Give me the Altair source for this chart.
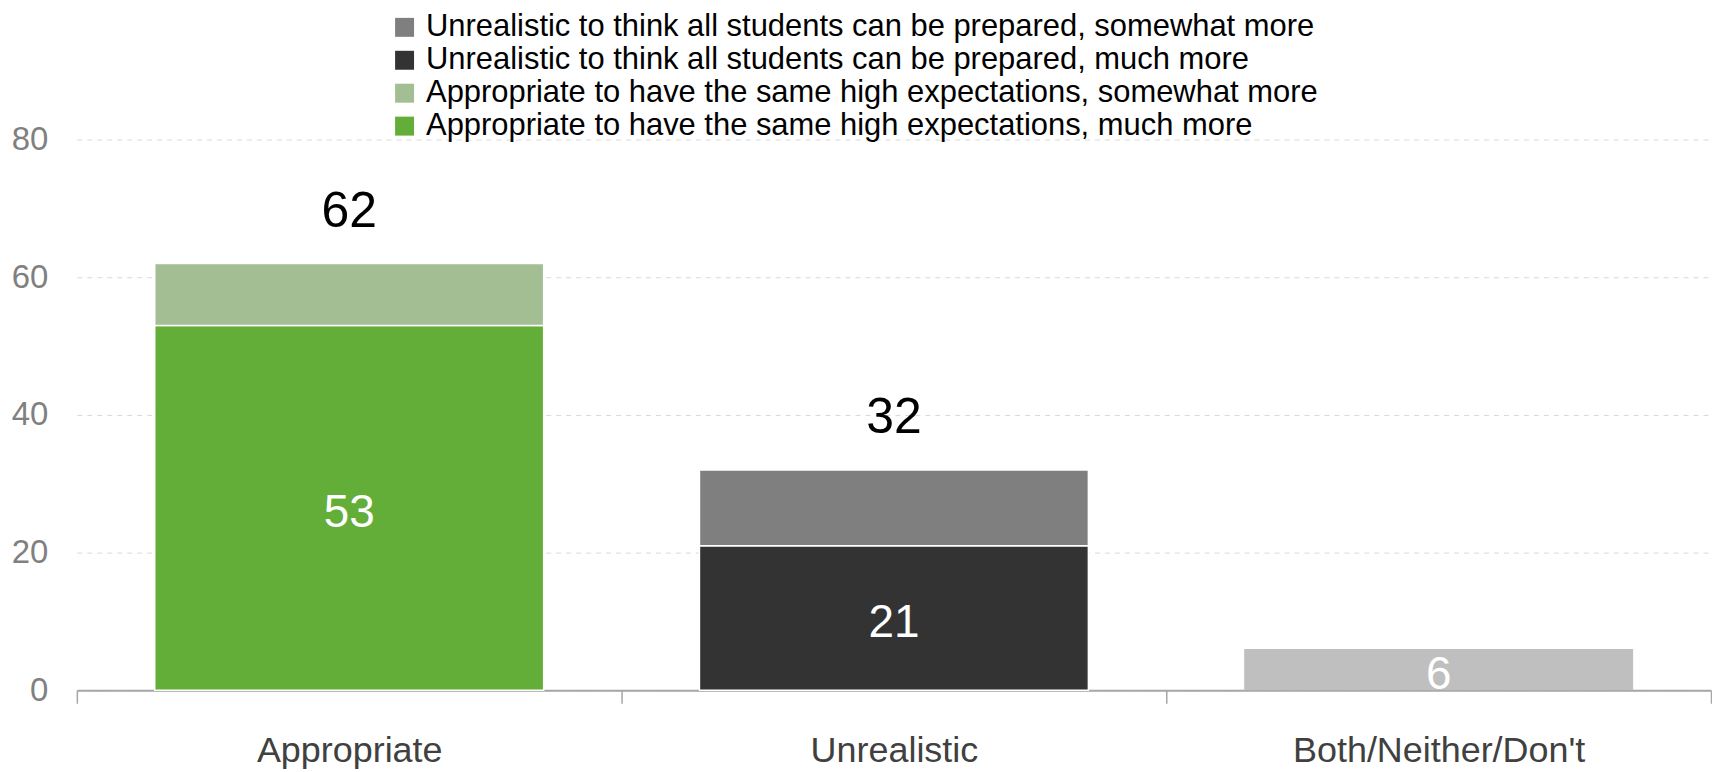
import altair as alt
import pandas as pd

categories = ["Appropriate", "Unrealistic", "Both/Neither/Don't"]
series = [
    "Unrealistic to think all students can be prepared, somewhat more",
    "Unrealistic to think all students can be prepared, much more",
    "Appropriate to have the same high expectations, somewhat more",
    "Appropriate to have the same high expectations, much more",
]
colors = ["#7f7f7f", "#333333", "#a3be92", "#63ad39"]

# stacked segments: (category, series, value, stack order)
seg_category = ["Appropriate", "Appropriate", "Unrealistic", "Unrealistic"]
seg_series = [series[3], series[2], series[1], series[0]]
seg_value = [53, 9, 21, 11]
seg_order = [0, 1, 0, 1]

both_value = 6
totals = [62, 32]
total_categories = ["Appropriate", "Unrealistic"]

inner_categories = ["Appropriate", "Unrealistic", "Both/Neither/Don't"]
inner_values = [53, 21, 6]

seg_df = pd.DataFrame({"category": seg_category, "series": seg_series,
                       "value": seg_value, "order": seg_order})
both_df = pd.DataFrame({"category": ["Both/Neither/Don't"], "value": [both_value]})
tot_df = pd.DataFrame({"category": total_categories, "value": totals})
inner_df = pd.DataFrame({"category": inner_categories, "value": inner_values})
inner_df["mid"] = inner_df["value"] / 2

xscale = alt.Scale(domain=categories, paddingInner=0, paddingOuter=0)
yscale = alt.Scale(domain=[0, 80])
BAR_W = {"band": 0.714}

xenc = alt.X("category:N", sort=categories, scale=xscale,
             axis=alt.Axis(title=None, labelAngle=0, labelFontSize=36, labelColor="#404040",
                           labelPadding=30, labelLimit=600, tickSize=13, tickColor="#a6a6a6",
                           tickWidth=1.5, tickBand="extent", domainColor="#a6a6a6",
                           domainWidth=2, grid=False))

bars = alt.Chart(seg_df).mark_bar(stroke="white", strokeWidth=1.5, width=BAR_W).encode(
    x=xenc,
    y=alt.Y("value:Q", stack="zero", scale=yscale,
            axis=alt.Axis(title=None, values=[0, 20, 40, 60, 80], grid=True, gridDash=[5, 5],
                          gridColor="#d9d9d9", gridWidth=1, domain=False, ticks=False,
                          labelFontSize=33, labelColor="#808080", labelPadding=29)),
    color=alt.Color("series:N", scale=alt.Scale(domain=series, range=colors),
                    legend=alt.Legend(orient="none", legendX=313, legendY=-128, title=None,
                                      labelFontSize=31, labelColor="black", symbolType="square",
                                      symbolSize=361, symbolStrokeWidth=0, symbolOpacity=1,
                                      labelOffset=6, rowPadding=1, padding=0,
                                      labelLimit=1400)),
    order=alt.Order("order:Q"),
)

both = alt.Chart(both_df).mark_bar(color="#bfbfbf", width=BAR_W).encode(
    x=alt.X("category:N", sort=categories, scale=xscale),
    y=alt.Y("value:Q", scale=yscale),
)

tot_text = alt.Chart(tot_df).mark_text(fontSize=50, color="black", baseline="middle", dy=-52).encode(
    x=alt.X("category:N", sort=categories, scale=xscale),
    y=alt.Y("value:Q", scale=yscale),
    text=alt.Text("value:Q"),
)

inner_text = alt.Chart(inner_df).mark_text(fontSize=46, color="white", baseline="middle", dy=5).encode(
    x=alt.X("category:N", sort=categories, scale=xscale),
    y=alt.Y("mid:Q", scale=yscale),
    text=alt.Text("value:Q"),
)

chart = alt.layer(bars, both, tot_text, inner_text).properties(
    width=1638, height=552,
    padding={"left": 3, "top": 3, "right": 0, "bottom": 0},
).configure(font="Liberation Sans").configure_view(stroke=None)

chart.save("out.html", embed_options={"renderer": "svg", "actions": False})
